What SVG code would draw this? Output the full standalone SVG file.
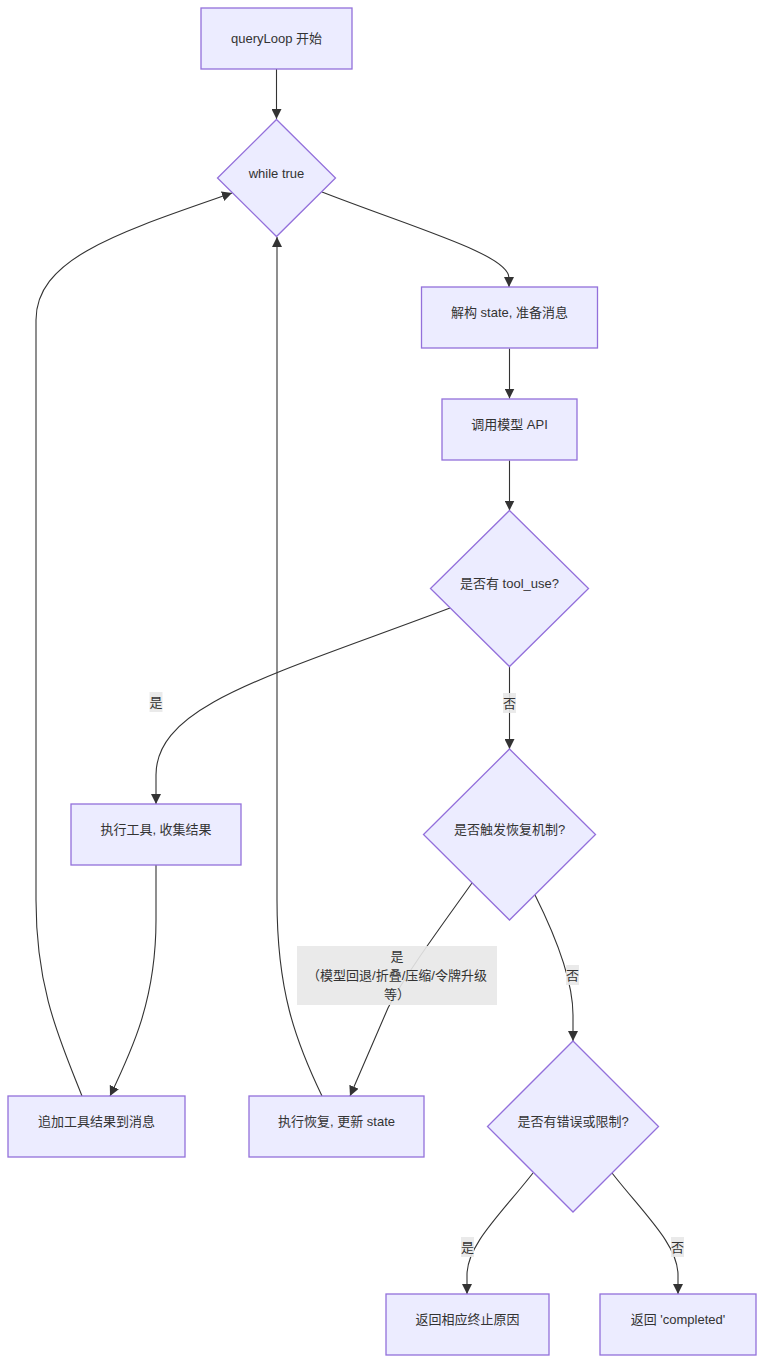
<svg xmlns="http://www.w3.org/2000/svg" width="764" height="1363" viewBox="0 0 764 1363">
<style>
.node rect,.node polygon{fill:#ECECFF;stroke:#9370DB;stroke-width:1.3}
text{font-family:"Liberation Sans","Noto Sans CJK SC",sans-serif;font-size:13px;fill:#333;text-anchor:middle}
.edge{fill:none;stroke:#333;stroke-width:1.1;marker-end:url(#arrow)}
.lbl rect{fill:#e8e8e8;opacity:0.9}
</style>
<defs>
<marker id="arrow" viewBox="0 0 10 10" refX="10" refY="5" markerUnits="userSpaceOnUse" markerWidth="10" markerHeight="10" orient="auto">
<path d="M0,0 L10,5 L0,10 z" fill="#333"/>
</marker>
</defs>
<rect width="764" height="1363" fill="#fff"/>
<g id="connectors">
<path class="edge" d="M276.5,69 L276.5,119"/>
<path class="edge" d="M322,192 C420,230 509,255 509,278 L509,287"/>
<path class="edge" d="M509.5,348.5 L509.5,398.5"/>
<path class="edge" d="M509.5,460.5 L509.5,510.5"/>
<path class="edge" d="M450,608 C270,676 156,705 156,775 L156,804"/>
<path class="edge" d="M509.5,667 L509.5,749"/>
<path class="edge" d="M472,883 C440,928 405,975 388,1008 L350,1096"/>
<path class="edge" d="M535,895 C560,945 573,985 573,1015 L573,1041"/>
<path class="edge" d="M156,865 L156,920 C156,1000 132,1050 110,1096"/>
<path class="edge" d="M82,1096 C60,1040 36,990 36,900 L36,320 C36,258 120,232 232,193"/>
<path class="edge" d="M322,1096 C295,1040 277,990 277,900 L277,237"/>
<path class="edge" d="M533,1173 C500,1215 467,1245 467,1275 L467,1294"/>
<path class="edge" d="M612,1173 C645,1215 678,1245 678,1275 L678,1294"/>
</g>
<g id="edge-labels">
<g class="lbl"><rect x="149.5" y="692" width="13" height="20"/><text x="156" y="707">是</text></g>
<g class="lbl"><rect x="503" y="693" width="13" height="20"/><text x="509.5" y="708">否</text></g>
<g class="lbl"><rect x="297" y="946" width="200" height="59"/>
<text x="397" y="961">是</text>
<text x="397" y="980">（模型回退/折叠/压缩/令牌升级</text>
<text x="397" y="999">等）</text></g>
<g class="lbl"><rect x="566" y="965" width="13" height="20"/><text x="572.5" y="980">否</text></g>
<g class="lbl"><rect x="461" y="1237" width="13" height="20"/><text x="467.5" y="1252">是</text></g>
<g class="lbl"><rect x="671" y="1237" width="13" height="20"/><text x="677.5" y="1252">否</text></g>
</g>
<g id="n-start" class="node"><rect x="201" y="8" width="151" height="61"/><text x="276.5" y="43">queryLoop 开始</text></g>
<g id="n-while" class="node"><polygon points="276.5,119.5 335.5,178 276.5,236.5 217.5,178"/><text x="276.5" y="178">while true</text></g>
<g id="n-destruct" class="node"><rect x="421.5" y="287" width="176" height="61"/><text x="509.5" y="317">解构 state, 准备消息</text></g>
<g id="n-callapi" class="node"><rect x="442" y="399" width="135" height="61"/><text x="509.5" y="429">调用模型 API</text></g>
<g id="n-tooluse" class="node"><polygon points="509.5,510.5 588.5,588.5 509.5,666.5 430.5,588.5"/><text x="509.5" y="588">是否有 tool_use?</text></g>
<g id="n-exec-tool" class="node"><rect x="71" y="804" width="170" height="61"/><text x="156" y="834">执行工具, 收集结果</text></g>
<g id="n-recover-q" class="node"><polygon points="509.5,749 595.5,834.5 509.5,920 423.5,834.5"/><text x="509.5" y="834">是否触发恢复机制?</text></g>
<g id="n-append" class="node"><rect x="8" y="1096" width="177" height="61"/><text x="96.5" y="1126">追加工具结果到消息</text></g>
<g id="n-recover" class="node"><rect x="249" y="1096" width="175" height="61"/><text x="336.5" y="1126">执行恢复, 更新 state</text></g>
<g id="n-error-q" class="node"><polygon points="573,1041 658.5,1126.5 573,1212 487.5,1126.5"/><text x="573" y="1126">是否有错误或限制?</text></g>
<g id="n-ret-reason" class="node"><rect x="386" y="1294" width="163" height="61"/><text x="467.5" y="1324">返回相应终止原因</text></g>
<g id="n-ret-complete" class="node"><rect x="600" y="1294" width="156" height="61"/><text x="678" y="1324">返回 'completed'</text></g>
</svg>
